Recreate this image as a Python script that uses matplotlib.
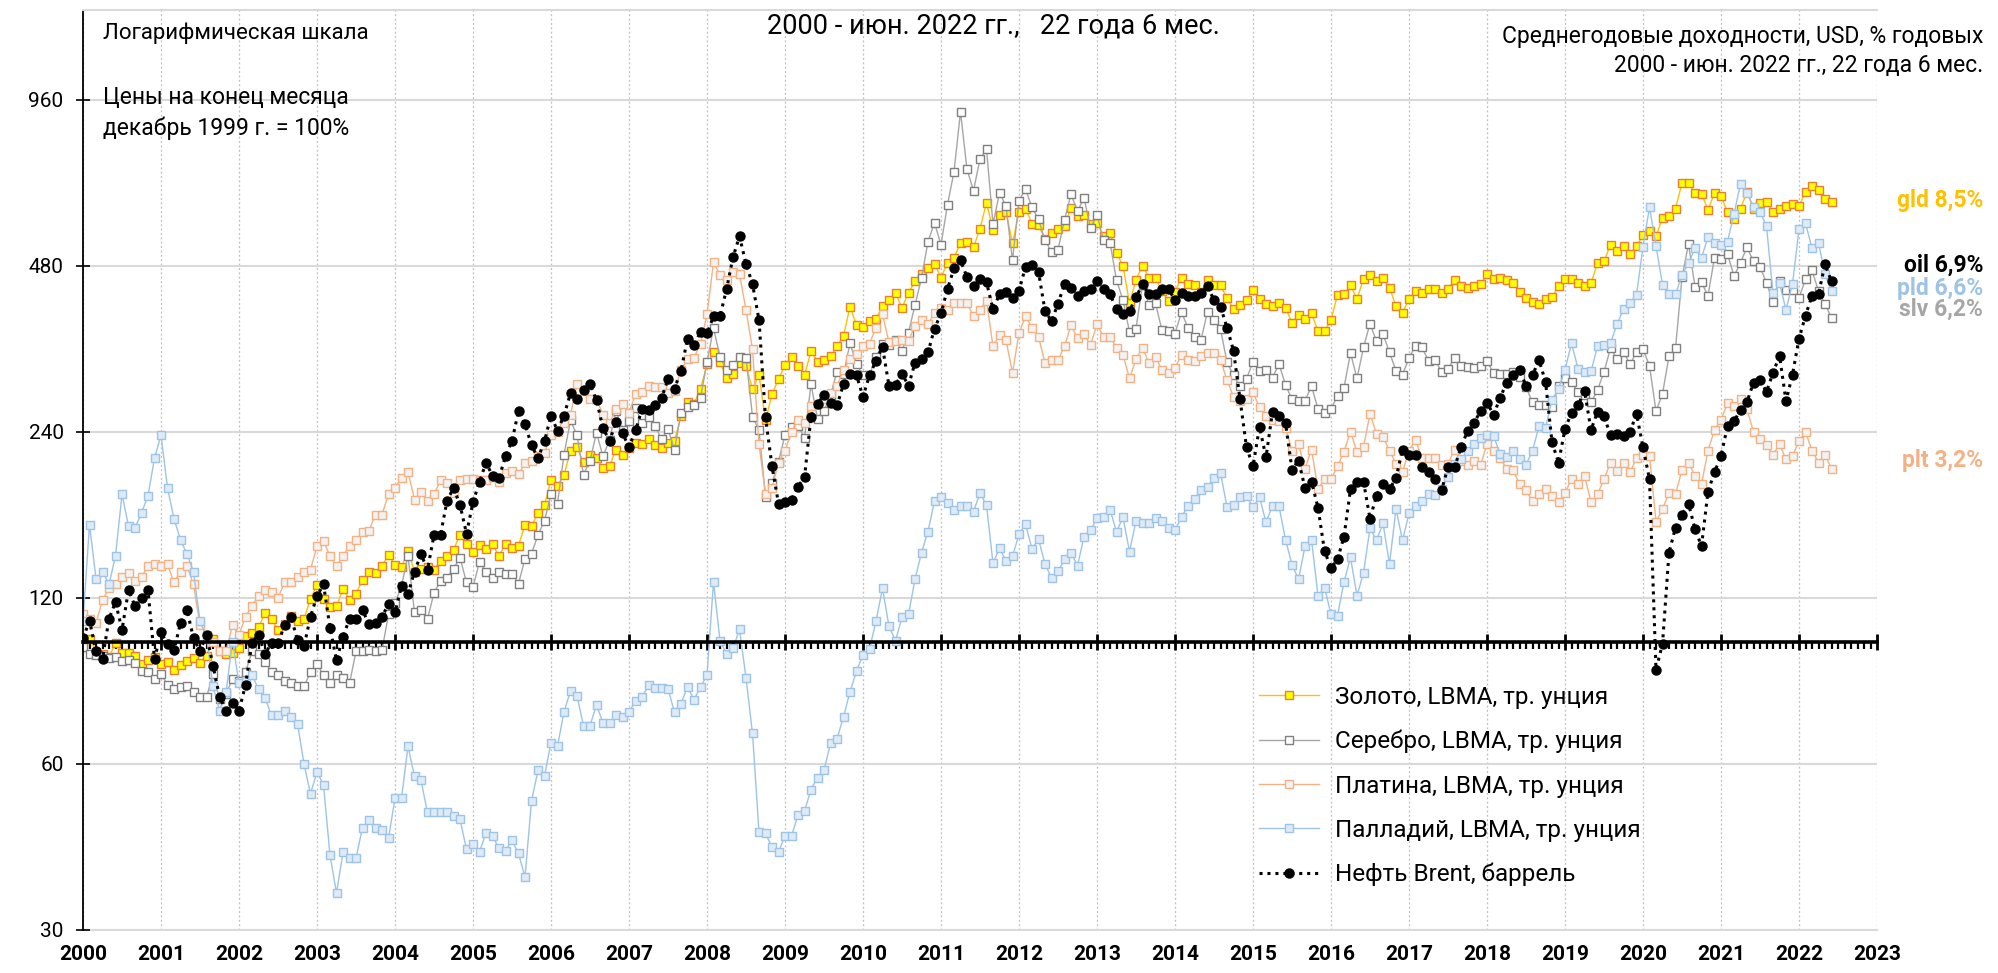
import numpy as np
import matplotlib.pyplot as plt
from matplotlib.ticker import FixedLocator, FixedFormatter, NullLocator

plt.rcParams['font.family'] = ['Roboto', 'DejaVu Sans']

# month-end values, Dec 1999 = 100 %, Jan 2000 ... Jun 2022 (12 values per row)
gold = [
    97.6, 101.2, 95.9, 94.8, 93.8, 99.3, 95.4, 95.4, 94.3, 91.1, 92.7, 93.9,
    91.1, 91.9, 88.8, 90.7, 92.2, 93.2, 91.6, 94.1, 101.0, 96.1, 94.9, 95.3,
    97.3, 102.3, 103.8, 106.2, 112.5, 109.7, 105.0, 107.8, 111.5, 109.2, 109.9, 119.6,
    126.6, 119.7, 115.4, 116.0, 124.5, 119.2, 122.2, 129.4, 133.7, 133.1, 137.3, 143.4,
    137.7, 136.4, 146.0, 133.9, 135.5, 136.4, 134.8, 140.3, 143.2, 146.6, 156.2, 150.1,
    145.4, 150.0, 147.3, 150.1, 142.8, 150.6, 147.8, 149.3, 163.0, 162.2, 170.8, 176.7,
    196.0, 191.6, 200.5, 221.9, 225.0, 211.4, 217.9, 214.8, 206.5, 208.0, 222.8, 217.7,
    224.1, 228.8, 228.0, 233.2, 227.1, 224.1, 229.3, 231.5, 256.0, 272.0, 269.9, 287.3,
    318.1, 334.7, 321.6, 300.1, 305.2, 320.5, 316.3, 287.0, 304.7, 251.8, 280.6, 299.7,
    316.8, 328.0, 315.8, 304.3, 336.1, 322.0, 323.5, 329.2, 343.1, 358.3, 405.1, 374.7,
    371.6, 381.8, 384.3, 406.3, 416.0, 428.6, 402.8, 429.3, 450.3, 464.0, 476.7, 484.2,
    457.2, 486.1, 495.8, 529.0, 529.4, 518.7, 561.1, 624.8, 558.1, 593.3, 601.6, 527.5,
    600.9, 609.8, 572.8, 568.9, 536.8, 550.7, 558.8, 568.0, 611.9, 592.2, 594.7, 571.1,
    573.3, 543.8, 550.6, 506.1, 480.4, 410.7, 452.9, 480.5, 457.0, 456.2, 431.7, 415.0,
    431.0, 457.0, 445.1, 443.9, 430.8, 453.1, 442.8, 443.0, 419.1, 401.1, 407.5, 415.5,
    434.2, 418.3, 409.0, 406.6, 410.5, 403.4, 378.4, 391.0, 383.8, 393.6, 365.9, 365.2,
    383.0, 425.5, 426.2, 443.0, 417.6, 455.0, 462.4, 451.1, 455.6, 438.2, 405.9, 394.8,
    417.8, 432.6, 428.9, 436.3, 436.2, 428.3, 436.7, 451.9, 442.1, 437.6, 441.1, 444.8,
    463.4, 454.0, 456.1, 453.1, 447.3, 430.8, 420.5, 413.6, 409.0, 418.6, 421.0, 440.7,
    454.6, 454.5, 446.3, 441.8, 446.5, 485.4, 489.2, 524.7, 511.7, 520.6, 504.3, 521.9,
    545.4, 554.6, 543.3, 586.6, 591.2, 609.2, 679.1, 677.9, 650.1, 647.7, 607.3, 650.3,
    642.1, 600.6, 582.6, 609.0, 654.6, 607.5, 622.9, 626.5, 600.4, 609.8, 615.3, 622.2,
    616.1, 654.8, 669.1, 658.5, 634.7, 626.0,
]

silver = [
    97.6, 95.1, 94.4, 94.0, 93.4, 93.8, 92.3, 92.7, 91.4, 88.6, 88.0, 85.7,
    87.4, 83.5, 82.0, 82.6, 83.1, 81.1, 79.5, 79.2, 87.4, 78.8, 80.5, 85.5,
    85.0, 88.0, 96.0, 95.0, 92.0, 88.0, 87.0, 85.0, 84.0, 83.0, 83.0, 88.0,
    91.0, 87.0, 84.0, 87.0, 86.0, 84.0, 96.0, 96.0, 96.5, 96.0, 96.5, 112.0,
    117.4, 126.3, 143.0, 113.1, 114.3, 109.9, 122.5, 128.9, 130.6, 135.5, 142.0, 128.0,
    125.7, 139.4, 134.0, 130.2, 133.6, 132.5, 132.6, 127.4, 141.3, 144.3, 156.1, 165.7,
    185.0, 177.9, 218.4, 251.8, 236.6, 200.8, 212.8, 239.2, 216.7, 231.9, 261.9, 242.0,
    251.6, 265.5, 249.5, 255.9, 246.2, 233.0, 242.8, 222.9, 259.7, 266.8, 268.1, 276.9,
    320.8, 370.4, 328.3, 310.3, 316.7, 328.3, 327.4, 255.9, 241.7, 183.1, 193.8, 212.0,
    236.8, 244.8, 246.3, 234.3, 292.7, 253.8, 262.3, 279.9, 308.6, 305.1, 347.5, 318.8,
    304.5, 304.5, 328.3, 346.2, 344.7, 351.6, 337.0, 363.4, 407.7, 456.1, 531.3, 574.7,
    524.2, 619.9, 710.5, 913.7, 718.2, 657.0, 750.3, 782.0, 571.3, 651.2, 616.3, 491.0,
    630.4, 661.4, 612.8, 583.5, 533.8, 509.2, 513.5, 581.8, 647.7, 602.4, 638.3, 561.9,
    593.4, 534.9, 529.1, 452.2, 416.1, 364.4, 369.4, 443.9, 407.1, 410.5, 366.8, 365.8,
    361.9, 395.5, 370.7, 356.5, 352.7, 396.1, 382.2, 368.9, 321.0, 303.9, 290.2, 299.6,
    321.4, 309.4, 311.4, 300.9, 318.6, 292.1, 274.9, 272.6, 273.2, 290.8, 264.0, 259.3,
    264.5, 278.6, 288.7, 333.8, 300.0, 341.5, 377.3, 350.3, 361.0, 334.5, 309.8, 304.7,
    326.6, 343.9, 342.0, 322.3, 324.4, 308.4, 312.0, 327.0, 315.4, 315.2, 313.1, 316.5,
    322.9, 306.6, 306.2, 306.0, 308.8, 301.9, 289.5, 271.5, 268.7, 268.1, 265.9, 290.2,
    300.9, 295.5, 283.3, 279.7, 271.7, 285.7, 308.3, 340.3, 325.5, 335.3, 318.2, 334.9,
    339.0, 316.3, 261.7, 281.4, 329.3, 340.0, 457.8, 525.5, 439.6, 448.0, 423.8, 497.0,
    494.7, 504.5, 460.0, 486.7, 518.8, 488.9, 478.4, 447.1, 413.3, 451.2, 433.2, 433.2,
    420.3, 453.5, 471.5, 431.9, 410.1, 385.7,
]

platinum = [
    112, 110, 108, 119, 125, 127, 131, 133, 129, 131, 137, 138,
    137, 138, 128, 134, 137, 127, 107, 103, 100, 96, 96, 107,
    103, 111, 116, 121, 124, 123, 120, 128, 128, 131, 134, 135,
    149, 152, 143, 137, 143, 149, 153, 158, 159, 170, 170, 185,
    190, 198, 203, 181, 187, 180, 185, 196, 194, 186, 196, 197,
    197, 196, 196, 199, 195, 202, 204, 201, 211, 213, 217, 220,
    237, 240, 249, 258, 293, 285, 275, 275, 258, 249, 264, 270,
    260, 281, 283, 291, 289, 289, 282, 285, 311, 325, 327, 347,
    392, 487, 463, 453, 468, 464, 399, 339, 228, 185, 190, 211,
    222, 240, 252, 249, 267, 270, 275, 282, 291, 311, 325, 332,
    343, 347, 371, 392, 349, 351, 352, 351, 374, 383, 376, 395,
    402, 399, 411, 411, 411, 389, 400, 415, 343, 360, 352, 307,
    363, 389, 371, 357, 320, 324, 324, 343, 375, 355, 361, 345,
    376, 357, 357, 341, 331, 300, 325, 341, 320, 328, 311, 307,
    314, 331, 324, 323, 330, 334, 334, 324, 298, 278, 273, 275,
    283, 266, 257, 252, 251, 244, 222, 228, 206, 223, 189, 197,
    197, 208, 221, 240, 221, 225, 259, 238, 235, 222, 210, 203,
    222, 232, 215, 215, 215, 209, 210, 223, 213, 209, 213, 209,
    228, 222, 215, 206, 205, 193, 188, 180, 185, 189, 184, 179,
    186, 197, 193, 200, 179, 185, 197, 211, 204, 211, 203, 215,
    218, 217, 165, 174, 186, 185, 205, 211, 200, 193, 222, 242,
    252, 271, 267, 275, 264, 240, 233, 227, 218, 228, 214, 217,
    231, 240, 222, 211, 218, 206,
]

palladium = [
    109, 163, 130, 134, 127, 143, 185, 162, 161, 171, 184, 215,
    237, 190, 167, 153, 144, 134, 109, 102, 83, 75, 81, 100,
    84, 85, 87, 82, 79, 73.5, 73.5, 75, 73, 71, 60, 53,
    58, 55, 41, 35, 41.5, 40.5, 40.5, 46, 47.5, 46, 45.5, 44,
    52, 52, 64.6, 57, 56, 49, 49, 49, 49, 48.3, 47.6, 42,
    43, 41.6, 45, 44.4, 42.2, 41.8, 43.6, 41.3, 37.4, 51.4, 58.4, 57.1,
    65.6, 64.6, 74.6, 81.4, 79.8, 70.4, 70.4, 76.8, 71.2, 71.2, 73.5, 73.1,
    74.6, 78, 79.3, 83.4, 82.5, 82.3, 82.2, 74.4, 77.2, 82.8, 78.4, 82.8,
    86.9, 128.3, 100.4, 95, 97.2, 105.2, 86, 68.2, 45.1, 44.9, 42.4, 41.6,
    44.4, 44.4, 48.5, 49.3, 53.9, 56.7, 58.4, 65.4, 66.6, 73.1, 81.1, 88.4,
    94.6, 97, 108.9, 124.9, 106.6, 100.4, 110.6, 112, 129.7, 145, 158.3, 179.9,
    182.6, 178.6, 173.6, 175.9, 175.9, 172.1, 185.9, 176.8, 138.7, 147.6, 140.2, 142.7,
    156.6, 163.3, 147.3, 153.4, 138.2, 130.6, 134.1, 140.9, 145, 137.3, 154.9, 159.1,
    167.4, 168.4, 173.6, 158.3, 168, 145.6, 165.5, 164.4, 164.4, 167.4, 165.5, 161,
    159.2, 168.4, 175.9, 181.3, 188.5, 190.6, 197.8, 202.3, 175.5, 176.8, 182.6, 183.3,
    175.5, 182.6, 164.8, 175.9, 175.9, 153.1, 137.9, 129.7, 148.8, 153.1, 121.1, 125.2,
    112.3, 111.4, 128.3, 142.1, 121.1, 133.3, 160.6, 152.6, 163.8, 138.2, 174, 152.6,
    170.8, 175.9, 179.9, 185.5, 184.8, 189.3, 199.2, 210, 213.9, 221.4, 228.2, 233.6,
    237.3, 236.2, 218.8, 216.4, 221.9, 214.4, 209.3, 221.9, 245.5, 243.9, 274.5, 287.4,
    311.2, 347.6, 312.6, 308.2, 308.9, 343.2, 345.4, 347.6, 375.9, 400.7, 411.2, 425.5,
    520, 613, 522, 444, 427, 426, 462, 485, 517, 496, 542, 528,
    523, 531, 596, 676, 651, 615, 602, 567, 428, 446, 400, 445,
    560, 574, 517, 528, 464, 432,
]

oil = [
    101.5, 109, 96, 93, 110, 118, 105, 124, 116, 120, 124, 93,
    104, 99, 96.5, 108, 114, 101.5, 96, 103, 90.4, 79.5, 75, 77.5,
    75, 83.4, 99.5, 103, 95, 99.5, 99.5, 107, 111, 100.5, 98, 111,
    121, 127, 106, 92.5, 102, 110, 110, 114, 107.5, 108, 111, 117,
    113, 126, 122, 134, 144, 135, 156, 156, 180, 190, 177, 157,
    179, 195, 211, 200, 198, 217, 231, 262, 248, 227, 215, 231,
    257, 241, 257, 282, 275, 286, 293, 274, 244, 231, 250, 238.5,
    225.5, 241.5, 264, 263, 269, 276.5, 299, 287.5, 310, 354, 345, 364.5,
    362, 389, 389, 435, 498, 543, 484, 445, 383, 255, 208, 178,
    179, 181, 191, 198.5, 255.6, 270, 280, 271, 268, 293, 306, 304,
    278, 304, 323, 342, 291, 292, 306, 291, 320.5, 325, 334.5, 369.5,
    393.6, 436, 475, 491, 458, 441, 455, 448, 401, 426, 431, 419,
    433, 478, 481, 468, 398, 381, 410, 445, 438, 424, 433, 435,
    450.5, 436, 426.5, 401, 392, 398, 421, 445, 426, 426, 435, 435,
    417, 428, 423, 424, 429, 441, 416, 405, 371, 337, 275, 225,
    208, 245, 216, 261, 257, 249, 205, 213, 190, 195, 175, 146,
    136, 141, 155, 189, 195, 195, 167, 184, 193, 189, 198, 223,
    218, 218, 207, 203, 197, 188, 207, 207, 225, 241, 249, 262,
    271, 258, 276, 295, 304, 311, 291, 304, 324, 296, 230, 211,
    243, 260, 268, 285, 242, 261, 256, 237, 238, 236, 240, 259,
    225, 197, 89, 99, 145, 161, 170, 178, 160, 149, 187, 203,
    217, 246, 251, 263, 272, 295, 298, 284, 307, 330, 273, 305,
    354, 390, 424, 427, 483, 450,
]

labels = ['Золото, LBMA, тр. унция', 'Серебро, LBMA, тр. унция',
          'Платина, LBMA, тр. унция', 'Палладий, LBMA, тр. унция',
          'Нефть Brent, баррель']
cagr_names = ['gld 8,5%', 'oil 6,9%', 'pld 6,6%', 'slv 6,2%', 'plt 3,2%']
years = list(range(2000, 2024))
y_ticks = [30, 60, 120, 240, 480, 960]

W, H = 1998, 973
fig = plt.figure(figsize=(W / 100, H / 100), dpi=100)
ax = fig.add_axes([83 / W, 1 - 930 / H, (1877 - 83) / W, (930 - 9.5) / H])

x = 2000 + np.arange(len(gold)) / 12

metal_styles = [
    dict(color='#FFC000', mfc='#FFFF00', mec='#ED7D31'),
    dict(color='#A6A6A6', mfc='white', mec='#7F7F7F'),
    dict(color='#F4B183', mfc='#F2F2F2', mec='#F4B183'),
    dict(color='#9DC3E6', mfc='#DEEBF7', mec='#9DC3E6'),
]
for vals, lab, st in zip([gold, silver, platinum, palladium], labels, metal_styles):
    ax.plot(x, vals, lw=1.0, marker='s', ms=5.5, mew=1.0, label=lab, **st)
ax.plot(x, oil, color='black', ls=(0, (1, 1.6)), lw=2.2, marker='o', ms=6.5,
        label=labels[4])

# axes / scales
ax.set_yscale('log', base=2)
ax.set_ylim(30, 1400)
ax.set_xlim(2000, 2023)
ax.yaxis.set_major_locator(FixedLocator(y_ticks))
ax.yaxis.set_major_formatter(FixedFormatter([str(v) for v in y_ticks]))
ax.yaxis.set_minor_locator(NullLocator())
ax.tick_params(axis='y', direction='inout', length=10, width=1.2, labelsize=15, pad=9)

# x axis drawn at the 100 % level, labels at the bottom
ax.spines['bottom'].set_position(('data', 100))
ax.spines['bottom'].set_linewidth(2.6)
ax.xaxis.set_major_locator(FixedLocator(years))
ax.xaxis.set_minor_locator(FixedLocator(2000 + np.arange(23 * 12 + 1) / 12))
ax.tick_params(axis='x', which='major', direction='inout', length=11, width=2, labelbottom=False)
ax.tick_params(axis='x', which='minor', direction='out', length=5, width=1.6)

sec = ax.secondary_xaxis(0)
sec.set_xticks(years)
sec.set_xticklabels([str(y) for y in years], fontweight='bold', fontsize=15)
sec.tick_params(length=0, pad=11)
sec.spines['bottom'].set_color('#D9D9D9')
sec.spines['bottom'].set_linewidth(1.5)

ax.spines['left'].set_linewidth(1.3)
ax.spines['top'].set_color('#D9D9D9')
ax.spines['top'].set_linewidth(1.5)
ax.spines['right'].set_visible(False)
ax.set_axisbelow(True)
ax.grid(axis='y', color='#D9D9D9', lw=1.5)
ax.grid(axis='x', which='major', color='#BFBFBF', lw=0.9, ls=(0, (1.5, 2)))

ax.legend(loc='center left', bbox_to_anchor=(1249 / W, 1 - 786 / H),
          bbox_transform=fig.transFigure, frameon=False, fontsize=17.5,
          borderaxespad=0, handlelength=2.5, handletextpad=0.65, labelspacing=0.87)

# annotations
def px(xp, yp):
    return xp / W, 1 - yp / H

fig.text(*px(103, 33), 'Логарифмическая шкала', fontsize=16, va='center')
fig.text(*px(103, 98), 'Цены на конец месяца', fontsize=16.5, va='center')
fig.text(*px(103, 128), 'декабрь 1999 г. = 100%', fontsize=16.5, va='center')
fig.text(*px(993, 26), '2000 - июн. 2022 гг.,   22 года 6 мес.', fontsize=19.5,
         ha='center', va='center')
fig.text(*px(1983, 36), 'Среднегодовые доходности, USD, % годовых', fontsize=16.5,
         ha='right', va='center')
fig.text(*px(1983, 65), '2000 - июн. 2022 гг., 22 года 6 мес.', fontsize=16.5,
         ha='right', va='center')

cagr_colors = ['#FFC000', 'black', '#9DC3E6', '#A6A6A6', '#F4B183']
cagr_y = [201, 265, 288, 309, 461]
for name, c, yp in zip(cagr_names, cagr_colors, cagr_y):
    fig.text(*px(1983, yp), name, fontsize=16.5, fontweight='bold', color=c,
             ha='right', va='center')

fig.savefig('out.png', dpi=100)
